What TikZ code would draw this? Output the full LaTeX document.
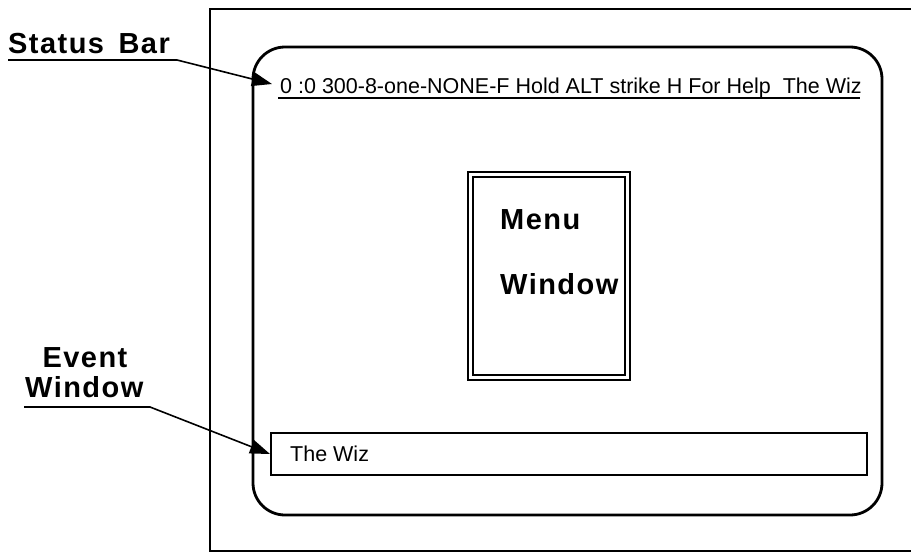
\documentclass[tikz,border=0pt]{standalone}
\usepackage{fontspec}
\setmainfont{Liberation Sans}
\usetikzlibrary{positioning,arrows.meta}

\begin{document}
\begin{tikzpicture}[x=1pt,y=-1pt,
  lbl/.style={font=\fontsize{29}{34}\selectfont\bfseries\addfontfeature{LetterSpace=5},inner sep=0pt},
  txt/.style={font=\fontsize{21.5}{25}\selectfont,inner sep=0pt},
  leader/.style={line width=1.6pt,-{Triangle[length=20pt,width=14pt]}}]
\useasboundingbox (0,0) rectangle (911,554);
% screen and window frame
\draw[line width=1.2pt] (911,9) -- (210,9) -- (210,551) -- (911,551);
\draw[line width=2.8pt,rounded corners=32pt] (253,47) rectangle (882,515);
% status bar
\node[txt,anchor=base west] (statustxt) at (280,93) {0 :0 300-8-one-NONE-F Hold ALT strike H For Help\ \ The Wiz};
\draw[line width=1.4pt] (278,98) -- (860,98);
% menu window
\draw[line width=1.2pt] (468,172) rectangle (630,380);
\draw[line width=2.2pt] (473,177) rectangle (625,375);
\node[lbl,anchor=base west] (menulbl) at (500,229) {Menu};
\node[lbl,anchor=base west] (menuwin) at (500,294) {Window};
% event window
\draw[line width=2.5pt] (271,433) rectangle (867,475);
\node[txt,anchor=base west] (eventtxt) at (290,461) {The Wiz};
% labels and leaders
\node[lbl,anchor=base west] (statuslbl) at (8,53) {Status\hspace{5pt} Bar};
\node[lbl,anchor=base] (eventlbl) at (85,367) {Event};
\node[lbl,anchor=base west] (eventwin) at (25,397) {Window};
\coordinate (statusul) at (8,60);
\coordinate (statusbend) at (177,60);
\coordinate (statustip) at (272,84);
\coordinate (eventul) at (24,407);
\coordinate (eventbend) at (150,407);
\coordinate (eventtip) at (270,454);
\draw[leader] (statusul) -- (statusbend) -- (statustip);
\draw[leader] (eventul) -- (eventbend) -- (eventtip);
\end{tikzpicture}
\end{document}
